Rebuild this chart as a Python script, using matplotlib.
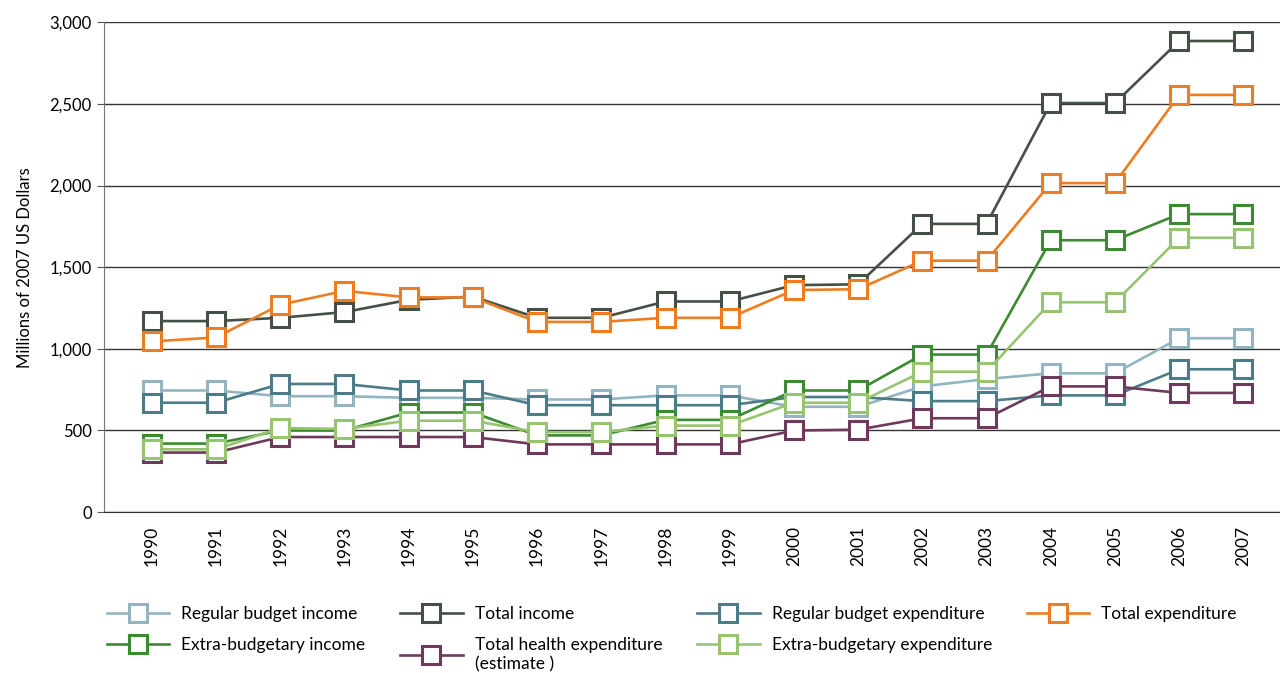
import matplotlib
matplotlib.use('Agg')
import matplotlib.pyplot as plt
from matplotlib.ticker import FuncFormatter

plt.rcParams['font.family'] = ['Lato', 'DejaVu Sans']

years = list(range(1990, 2008))

# series values, millions of 2007 US dollars
regular_income = [745, 745, 710, 710, 700, 700, 690, 690, 715, 715, 645, 645, 770, 815, 850, 850, 1065, 1065]
total_income = [1170, 1170, 1190, 1225, 1300, 1320, 1190, 1190, 1290, 1290, 1390, 1395, 1765, 1765, 2505, 2505, 2885, 2885]
regular_exp = [670, 670, 785, 785, 745, 745, 655, 655, 655, 655, 705, 705, 680, 680, 715, 715, 875, 875]
total_exp = [1045, 1070, 1270, 1355, 1315, 1315, 1165, 1165, 1190, 1190, 1360, 1365, 1540, 1540, 2015, 2015, 2555, 2555]
extra_income = [420, 420, 500, 500, 610, 610, 470, 470, 565, 565, 745, 745, 965, 965, 1665, 1665, 1825, 1825]
health_exp = [365, 365, 460, 460, 460, 460, 415, 415, 415, 415, 500, 505, 575, 575, 770, 770, 730, 730]
extra_exp = [385, 385, 515, 510, 560, 560, 490, 490, 530, 530, 670, 670, 860, 860, 1285, 1285, 1680, 1680]

series = [
    ('Regular budget income', regular_income, '#93b5c1'),
    ('Total income', total_income, '#444f46'),
    ('Regular budget expenditure', regular_exp, '#4b7c87'),
    ('Total expenditure', total_exp, '#ee7d22'),
    ('Extra-budgetary income', extra_income, '#3b8b30'),
    ('Total health expenditure\n(estimate )', health_exp, '#6d3a5b'),
    ('Extra-budgetary expenditure', extra_exp, '#97c56f'),
]

fig = plt.figure(figsize=(12.8, 6.73), dpi=100)
ax = fig.add_axes([0.081, 0.239, 0.919, 0.728])

handles = {}
for name, vals, col in series:
    h, = ax.plot(years, vals, color=col, lw=1.9, marker='s', ms=12.5,
                 mfc='white', mec=col, mew=2.2, label=name)
    handles[name] = h

ax.set_ylim(0, 3000)
ax.set_xlim(1989.25, 2007.57)
ax.set_yticks(range(0, 3001, 500))
ax.yaxis.set_major_formatter(FuncFormatter(lambda v, p: '{:,.0f}'.format(v)))
ax.set_xticks(years)
ax.set_xticklabels([str(y) for y in years], rotation=90)
ax.tick_params(axis='x', length=0, pad=10, labelsize=12.5)
ax.tick_params(axis='y', length=5, color='#555555', labelsize=12)
ax.grid(axis='y', color='#333333', lw=1)
ax.set_axisbelow(True)
for s in ['top', 'right']:
    ax.spines[s].set_visible(False)
ax.spines['left'].set_color('#777777')
ax.spines['bottom'].set_color('#333333')
ax.set_ylabel('Millions of 2007 US Dollars', fontsize=12, labelpad=12)

# legend: matplotlib fills column-wise
order = [0, 4, 1, 5, 2, 6, 3]
hs = [handles[series[i][0]] for i in order]
fig.legend(hs, [series[i][0] for i in order], ncol=4, loc='upper left',
           bbox_to_anchor=(0.071, 0.123), frameon=False, fontsize=12.5,
           handlelength=3.6, handletextpad=0.7, columnspacing=2.0,
           labelspacing=0.9)

fig.savefig('out.png', dpi=100)
